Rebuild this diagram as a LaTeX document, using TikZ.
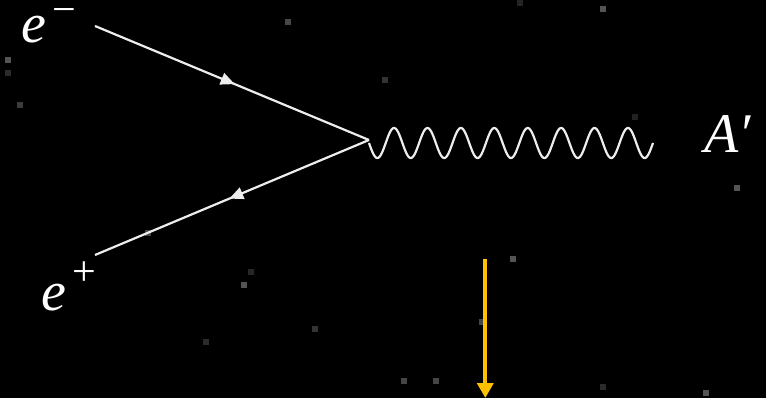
\documentclass[tikz,border=0pt]{standalone}
\usepackage{fontspec}
\newfontfamily\lblfont{Liberation Serif}
\usetikzlibrary{arrows.meta,decorations.markings}
\definecolor{gold}{HTML}{FFC000}
\definecolor{fermion}{HTML}{EDEDED}
\newcommand{\supsign}[2]{\smash{\raisebox{#1}{\upshape\fontsize{42}{42}\selectfont #2}}}
\begin{document}
\begin{tikzpicture}[x=1pt,y=-1pt,
  fermionline/.style={draw=fermion,line width=2.2pt,
    postaction={decorate},
    decoration={markings,mark=at position 0.51 with {\arrow{Triangle[length=14pt,width=12pt,fill=fermion]}}}},
  waveline/.style={draw=fermion,line width=2.2pt},
  lbl/.style={text=white,inner sep=0pt,text height=38pt,text depth=0pt,font=\lblfont\itshape\fontsize{56}{60}\selectfont},
  speck/.style={minimum size=6.5pt,inner sep=0pt,draw=none},
  goldarrow/.style={draw=gold,line width=4pt,-{Triangle[length=15pt,width=16pt,fill=gold]}}
]
\fill[black] (0,0) rectangle (766,398);
\useasboundingbox (0,0) rectangle (766,398);

% specks
\foreach \px/\py/\g in {288/22/28,520/3/14,603/9/33,8/60/33,8/73/17,20/105/23,385/80/20,635/117/13,737/188/33,148/233/27,251/272/15,244/285/33,315/329/20,206/342/17,513/259/33,482/322/27,404/381/27,436/381/27,603/387/17,706/393/33}
  \node[speck,fill=white!\g!black] at (\px,\py) {};

% fermion lines
\coordinate (em) at (95,26);
\coordinate (ep) at (95,255);
\coordinate (v) at (369,140);
\path[fermionline] (em) -- (v);
\path[fermionline] (v) -- (ep);

% photon
\draw[waveline] plot[domain=0:284,samples=400,smooth] ({369+\x},{143+15*sin(10.775*\x)});

% labels
\node[lbl,anchor=base west] (lem) at (21,43) {e\hspace{6pt}\supsign{19pt}{−}};
\node[lbl,anchor=base west] (lep) at (41,310) {e\hspace{6pt}\supsign{25pt}{+}};
\node[lbl,anchor=base west] (la) at (704,153) {A′};

% gold arrow
\coordinate (gs) at (485.3,259);
\coordinate (ge) at (485.3,398);
\draw[goldarrow] (gs) -- (ge);
\end{tikzpicture}
\end{document}
